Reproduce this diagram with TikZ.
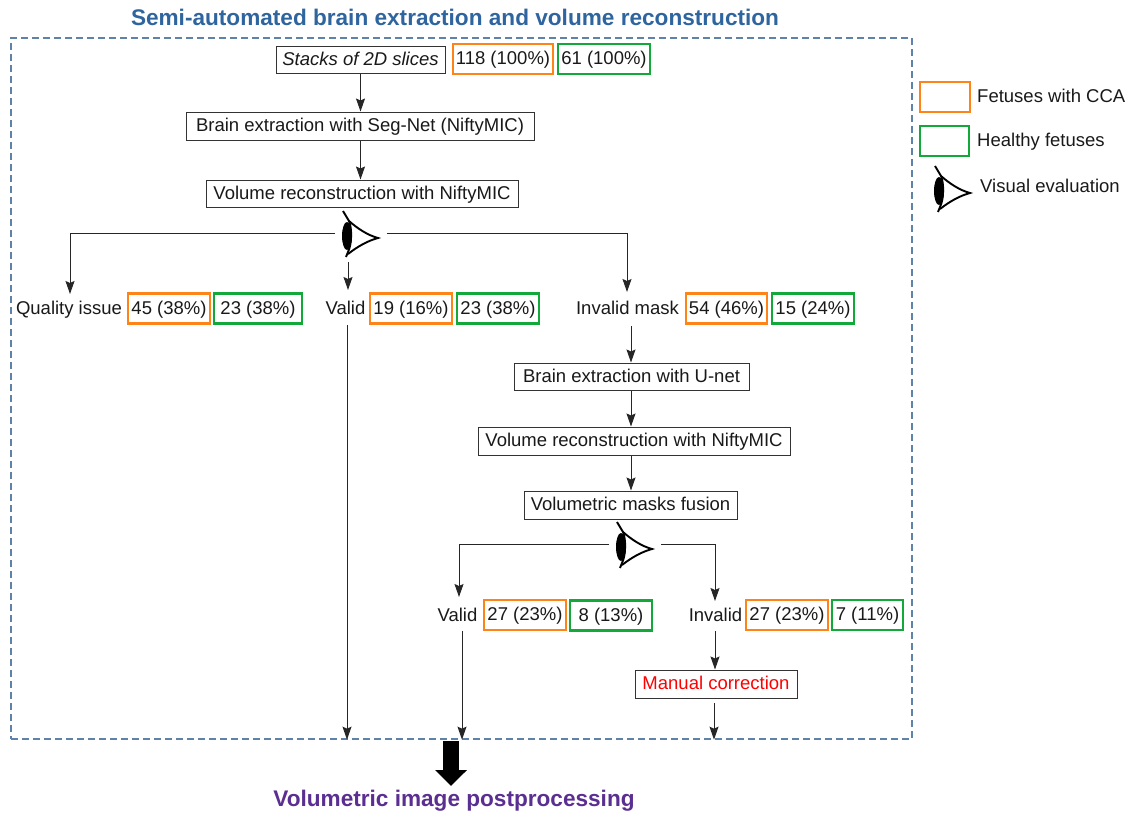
\documentclass[tikz,border=0pt]{standalone}
\usepackage{fontspec}
\setmainfont{Liberation Sans}
\usetikzlibrary{arrows.meta}
\definecolor{ccaorange}{HTML}{FF8418}
\definecolor{healthygreen}{HTML}{12A83A}
\definecolor{framegray}{HTML}{5F82A8}
\definecolor{titleblue}{HTML}{2F659F}
\definecolor{titlepurple}{HTML}{5B2F91}
\tikzset{
  every node/.style={inner sep=0pt,text=black!90,text height=14.5pt,text depth=3pt,font=\fontsize{18.5}{20}\selectfont},
  stepbox/.style={draw=black!80,line width=1pt,fill=white},
  ccabox/.style={draw=ccaorange,line width=2.8pt,minimum width=79pt,minimum height=30pt},
  hlybox/.style={draw=healthygreen,line width=2.8pt,minimum width=79pt,minimum height=30pt},
  arr/.style={draw=black!85,line width=1pt,-{Stealth[length=13pt,width=9pt,inset=2pt]}},
  eye/.pic={
    \draw[line width=1.9pt,black] (-4,-25) -- (2,-15) .. controls (5,-8) and (5,8) .. (1,16) -- (-1,21);
    \draw[line width=1.9pt,black] (2,-15) .. controls (10,-8) and (20,-1) .. (31,2) .. controls (20,5) and (10,11) .. (1,18);
    \fill[black] (0,0) ellipse (5pt and 14pt);
    \coordinate (-l) at (-12,-3);
    \coordinate (-r) at (40,-3);
    \coordinate (-d) at (1,26);
  }
}
\begin{document}
\begin{tikzpicture}[x=1pt,y=-1pt]
  \useasboundingbox (0,0) rectangle (1129,814);
  \node [font=\fontsize{22.6}{26}\bfseries\selectfont,text height=18pt,text depth=4pt,text=titleblue] (title) at (455,18) {Semi-automated brain extraction and volume reconstruction};
  \node [draw=framegray,line width=1.3pt,dash pattern=on 7pt off 4pt,minimum width=901pt,minimum height=701pt] (frame) at (461.5,388.5) {};
  % first pass
  \node [stepbox,minimum width=169pt,minimum height=27pt] (stacks) at (360.5,59.5) {\itshape Stacks of 2D slices};
  \node [ccabox,minimum width=100pt] (stacksc) at (503,59) {118 (100\%)};
  \node [hlybox,minimum width=92pt] (stacksh) at (604,59) {61 (100\%)};
  \node [stepbox,minimum width=348pt,minimum height=28pt] (segnet) at (360,126) {Brain extraction with Seg-Net (NiftyMIC)};
  \node [stepbox,minimum width=312pt,minimum height=27pt] (recon) at (362,193.5) {Volume reconstruction with NiftyMIC};
  \pic (eyea) at (347,236) {eye};
  \draw [arr] (stacks) -- (stacks |- segnet.north);
  \draw [arr] (stacks |- segnet.south) -- (stacks |- recon.north);
  % first evaluation
  \node (quality) at (69,308.5) {Quality issue};
  \node [ccabox,minimum width=82pt] (qualityc) at (169,308.5) {45 (38\%)};
  \node [hlybox,minimum width=88pt] (qualityh) at (258,308.5) {23 (38\%)};
  \node (valida) at (345.5,308.5) {Valid};
  \node [ccabox,minimum width=82pt] (validac) at (411,308.5) {19 (16\%)};
  \node [hlybox,minimum width=82pt] (validah) at (498,308.5) {23 (38\%)};
  \node (invalidm) at (627.5,308.5) {Invalid mask};
  \node [ccabox,minimum width=81pt] (invalidmc) at (726.5,308.5) {54 (46\%)};
  \node [hlybox,minimum width=82pt] (invalidmh) at (813,308.5) {15 (24\%)};
  \draw [arr] (eyea-l) -| (70,294);
  \draw [arr] (eyea-d) -- (348,290);
  \draw [arr] (eyea-r) -| (627,292);
  % second pass
  \node [stepbox,minimum width=235pt,minimum height=27pt] (unet) at (631.5,376.5) {Brain extraction with U-net};
  \node [stepbox,minimum width=312pt,minimum height=28pt] (reconb) at (634,441) {Volume reconstruction with NiftyMIC};
  \node [stepbox,minimum width=213pt,minimum height=28pt] (fusion) at (630.5,505) {Volumetric masks fusion};
  \pic (eyeb) at (621,547) {eye};
  \coordinate (invalidmout) at (631,326);
  \draw [arr] (invalidmout) -- (invalidmout |- unet.north);
  \draw [arr] (invalidmout |- unet.south) -- (invalidmout |- reconb.north);
  \draw [arr] (invalidmout |- reconb.south) -- (invalidmout |- fusion.north);
  % second evaluation
  \node (validb) at (457.5,615.5) {Valid};
  \node [ccabox,minimum width=82pt] (validbc) at (525,615) {27 (23\%)};
  \node [hlybox,minimum width=82pt] (validbh) at (611,615.5) {8 (13\%)};
  \node (invalidb) at (715.5,615.5) {Invalid};
  \node [ccabox,minimum width=82pt] (invalidbc) at (787,615) {27 (23\%)};
  \node [hlybox,minimum width=71pt] (invalidbh) at (867.5,615) {7 (11\%)};
  \node [stepbox,minimum width=162pt,minimum height=28pt,text=red] (manual) at (716,684) {Manual correction};
  \draw [arr] (eyeb-l) -| (459,597);
  \draw [arr] (eyeb-r) -| (715,601);
  \coordinate (invalidbout) at (715,631);
  \draw [arr] (invalidbout) -- (invalidbout |- manual.north);
  % into the postprocessing
  \coordinate (validaout) at (347,325);
  \coordinate (validbout) at (462,631);
  \coordinate (manualout) at (714,703);
  \draw [arr] (validaout) -- (validaout |- frame.south);
  \draw [arr] (validbout) -- (validbout |- frame.south);
  \draw [arr] (manualout) -- (manualout |- frame.south);
  \node [font=\fontsize{22.6}{26}\bfseries\selectfont,text height=18pt,text depth=4pt,text=titlepurple] (post) at (454,799) {Volumetric image postprocessing};
  \coordinate (bigarrowtop) at (451,741);
  \coordinate (bigarrowend) at (451,786);
  \draw [line width=16pt,black,-{Triangle[length=16pt,width=31pt]}] (bigarrowtop) -- (bigarrowend);
  % legend
  \node [ccabox,minimum width=50pt] (legc) at (945,97) {};
  \node [hlybox,minimum width=49pt] (legh) at (944.5,141) {};
  \node [anchor=west] (legct) at (977,97) {Fetuses with CCA};
  \node [anchor=west] (leght) at (977,141) {Healthy fetuses};
  \node [anchor=west] (legvt) at (980,187) {Visual evaluation};
  \pic (eyec) at (939,191) {eye};
\end{tikzpicture}
\end{document}
